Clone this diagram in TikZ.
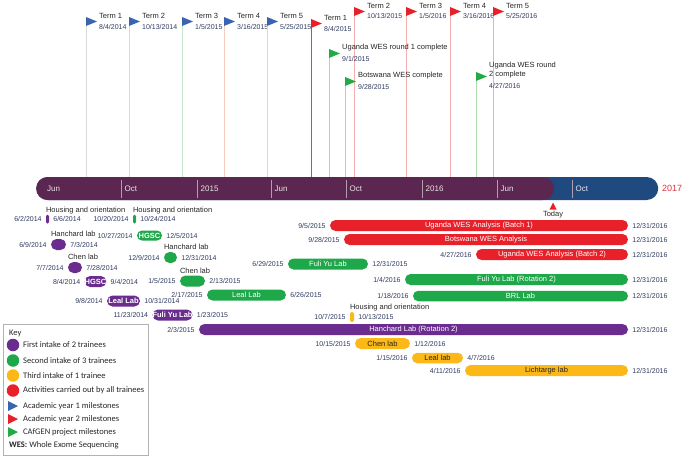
\documentclass[tikz,border=0pt]{standalone}
\usepackage{fontspec}
\setmainfont{Liberation Sans}
\newfontfamily\keyfont{Carlito}
\usetikzlibrary{calc}
\definecolor{tlpurple}{HTML}{5B2650}
\definecolor{tlblue}{HTML}{1E4A80}
\definecolor{cpurple}{HTML}{6A2C8E}
\definecolor{cgreen}{HTML}{1FA84A}
\definecolor{cred}{HTML}{E8202A}
\definecolor{cyellow}{HTML}{FBB817}
\definecolor{cdate}{HTML}{2F3B5E}
\definecolor{fblue}{HTML}{3B64B0}
\definecolor{fred}{HTML}{E8202A}
\definecolor{fgreen}{HTML}{22AA44}
\definecolor{pgrey}{HTML}{D8DAE0}
\definecolor{pgreen}{HTML}{C6E4C6}
\definecolor{psalmon}{HTML}{F8CDBF}
\definecolor{pred}{HTML}{E8404A}
\definecolor{ppink}{HTML}{F4AEAE}
\definecolor{pgreen2}{HTML}{AEDAAE}
\definecolor{yeartxt}{HTML}{D9343F}
\tikzset{
 actbar/.style={inner sep=0, font=\fontsize{7.5}{9}\selectfont, text=white},
 pbar/.style={fill=cpurple}, gbar/.style={fill=cgreen}, rbar/.style={fill=cred},
 ybar/.style={fill=cyellow, text=black!85},
 datesty/.style={inner sep=0, font=\fontsize{7}{8}\selectfont, text=cdate},
 toplabsty/.style={inner sep=0, font=\fontsize{7.5}{9}\selectfont, text=black!85},
 termsty/.style={inner sep=0, font=\fontsize{7.5}{9}\selectfont, text=black!85, align=left},
 polesty/.style={line width=1pt},
 ticklab/.style={inner sep=0, font=\fontsize{8}{9}\selectfont, text=white!88!tlpurple},
 tickline/.style={draw=white!55!tlpurple, line width=0.6pt},
 keytext/.style={inner sep=0, anchor=west, font=\keyfont\fontsize{8.5}{10}\selectfont, text=black!85},
 keydot/.style={circle, inner sep=0, minimum size=12.5pt},
}
% name, x1, x2, yc, h, style, text
\newcommand{\actbar}[7]{%
 \pgfmathsetmacro{\bw}{#3-#2}\pgfmathsetmacro{\br}{min(#5,\bw)/2}%
 \node[actbar,#6,minimum width=\bw pt,minimum height=#5pt,rounded corners=\br pt] (#1) at ({(#2+#3)/2},#4) {#7};}
\newcommand{\bardates}[3]{%
 \node[datesty,anchor=east] (#1s) at ([xshift=-4pt]#1.west) {#2};
 \node[datesty,anchor=west] (#1e) at ([xshift=4pt]#1.east) {#3};}
\newcommand{\toplab}[2]{\node[toplabsty,anchor=base west] (#1t) at ([yshift=2pt]#1.north west) {#2};}
% name,x,ytop,flagcolor,polecolor,label,date,dateoffset
\newcommand{\flag}[8]{%
 \coordinate (#1) at (#2,#3);
 \draw[polesty,#5] (#1) -- (#1 |- tl.north);
 \fill[#4] (#1) -- ++(11,4.5) -- ++(-11,4.5) -- cycle;
 \node[termsty,anchor=west] (#1l) at ($(#1)+(13,-1.5)$) {#6};
 \node[datesty,anchor=west] (#1d) at ($(#1)+(13,#8)$) {#7};}
\begin{document}
\begin{tikzpicture}[x=1pt,y=-1pt]
\useasboundingbox (0,0) rectangle (685,456);
% main time bar
\node[fill=tlblue, rounded corners=11.5pt, minimum width=622pt, minimum height=23pt, inner sep=0, anchor=west] (tl) at (36,188.5) {};
\node[fill=tlpurple, rounded corners=11.5pt, minimum width=518pt, minimum height=23pt, inner sep=0, anchor=west] (tlp) at (36,188.5) {};
\node[ticklab,anchor=west] (tk0) at (47,188.5) {Jun};
\foreach \x/\lab [count=\i] in {121/Oct,197/2015,271/Jun,346/Oct,422/2016,497/Jun,572/Oct}{
  \draw[tickline] (\x,179.5) -- (\x,197.5);
  \node[ticklab,anchor=west] (tk\i) at (\x+3.5,188.5) {\lab};
}
\node[anchor=west, inner sep=0, text=yeartxt, font=\fontsize{9}{10}\selectfont] (yr) at (662,188.5) {2017};
\coordinate (today) at (553,202.5);
\fill[cred] (today) -- ++(-3.5,7) -- ++(7,0) -- cycle;
\node[inner sep=0, font=\fontsize{7.5}{9}\selectfont, text=black!85] (todayl) at (553,215) {Today};
% flags
\flag{a1}{86}{17}{fblue}{pgrey}{Term 1}{8/4/2014}{9.5}
\flag{a2}{129}{17}{fblue}{pgreen}{Term 2}{10/13/2014}{9.5}
\flag{a3}{182}{17}{fblue}{pgreen}{Term 3}{1/5/2015}{9.5}
\flag{a4}{224}{17}{fblue}{psalmon}{Term 4}{3/16/2015}{9.5}
\flag{a5}{267}{17}{fblue}{psalmon}{Term 5}{5/25/2015}{9.5}
\flag{b1}{311}{19}{fred}{pred}{Term 1}{8/4/2015}{9.5}
\flag{b2}{354}{7}{fred}{ppink}{Term 2}{10/13/2015}{8.5}
\flag{b3}{406}{7}{fred}{ppink}{Term 3}{1/5/2016}{8.5}
\flag{b4}{450}{7}{fred}{ppink}{Term 4}{3/16/2016}{8.5}
\flag{b5}{493}{7}{fred}{ppink}{Term 5}{5/25/2016}{8.5}
\flag{c1}{329}{49}{fgreen}{pgreen2}{Uganda WES round 1 complete}{9/1/2015}{9.5}
\flag{c2}{345}{77}{fgreen}{pgreen2}{Botswana WES complete}{9/28/2015}{9.5}
\flag{c3}{476}{72}{fgreen}{pgreen2}{Uganda WES round\\2 complete}{4/27/2016}{14}
% purple bars
\actbar{ph}{46}{49}{219}{9}{pbar}{}\bardates{ph}{6/2/2014}{6/6/2014}\toplab{ph}{Housing and orientation}
\actbar{pha}{51}{66}{244.5}{11}{pbar}{}\bardates{pha}{6/9/2014}{7/3/2014}\toplab{pha}{Hanchard lab}
\actbar{pc}{68}{82}{267.5}{11}{pbar}{}\bardates{pc}{7/7/2014}{7/28/2014}\toplab{pc}{Chen lab}
\actbar{phg}{85}{106}{281.5}{11}{pbar}{\textbf{HGSC}}\bardates{phg}{8/4/2014}{9/4/2014}
\actbar{pl}{107}{140}{301}{11}{pbar}{\textbf{Leal Lab}}\bardates{pl}{9/8/2014}{10/31/2014}
\actbar{pf}{153}{192}{315}{11}{pbar}{\textbf{Fuli Yu Lab}}\bardates{pf}{11/23/2014}{1/23/2015}
\actbar{ph2}{199}{628}{329.5}{11}{pbar}{Hanchard Lab (Rotation 2)}\bardates{ph2}{2/3/2015}{12/31/2016}
% green bars
\actbar{gh}{133}{136}{219}{9}{gbar}{}\bardates{gh}{10/20/2014}{10/24/2014}\toplab{gh}{Housing and orientation}
\actbar{ghg}{137}{162}{235.5}{10}{gbar}{\textbf{HGSC}}\bardates{ghg}{10/27/2014}{12/5/2014}
\actbar{gha}{164}{177}{257.5}{11}{gbar}{}\bardates{gha}{12/9/2014}{12/31/2014}\toplab{gha}{Hanchard lab}
\actbar{gc}{180}{205}{281}{11}{gbar}{}\bardates{gc}{1/5/2015}{2/13/2015}\toplab{gc}{Chen lab}
\actbar{gl}{207}{286}{295}{11}{gbar}{Leal Lab}\bardates{gl}{2/17/2015}{6/26/2015}
\actbar{gf}{288}{368}{264}{11}{gbar}{Fuli Yu Lab}\bardates{gf}{6/29/2015}{12/31/2015}
\actbar{gf2}{405}{628}{279.5}{11}{gbar}{Fuli Yu Lab (Rotation 2)}\bardates{gf2}{1/4/2016}{12/31/2016}
\actbar{gb}{413}{628}{296}{10.5}{gbar}{BRL Lab}\bardates{gb}{1/18/2016}{12/31/2016}
% red bars
\actbar{r1}{330}{628}{225.5}{11}{rbar}{Uganda WES Analysis (Batch 1)}\bardates{r1}{9/5/2015}{12/31/2016}
\actbar{r2}{344}{628}{239.5}{11}{rbar}{Botswana WES Analysis}\bardates{r2}{9/28/2015}{12/31/2016}
\actbar{r3}{476}{628}{254.5}{11}{rbar}{Uganda WES Analysis (Batch 2)}\bardates{r3}{4/27/2016}{12/31/2016}
% yellow bars
\actbar{yh}{350}{354}{317}{10}{ybar}{}\bardates{yh}{10/7/2015}{10/13/2015}\toplab{yh}{Housing and orientation}
\actbar{yc}{355}{410}{343.5}{11}{ybar}{Chen lab}\bardates{yc}{10/15/2015}{1/12/2016}
\actbar{yl}{412}{463}{358}{10.5}{ybar}{Leal lab}\bardates{yl}{1/15/2016}{4/7/2016}
\actbar{yli}{465}{628}{370.5}{11}{ybar}{Lichtarge lab}\bardates{yli}{4/11/2016}{12/31/2016}
% key
\node[draw=black!30, line width=0.6pt, minimum width=145pt, minimum height=131pt, inner sep=0, anchor=north west] (key) at (3,324) {};
\node[keytext] (kt) at (9,333) {Key};
\node[keydot, fill=cpurple] (k1) at (13,345) {};
\node[keytext] (k1t) at (23,345) {First intake of 2 trainees};
\node[keydot, fill=cgreen] (k2) at (13,360.5) {};
\node[keytext] (k2t) at (23,360.5) {Second intake of 3 trainees};
\node[keydot, fill=cyellow] (k3) at (13,375.5) {};
\node[keytext] (k3t) at (23,375.5) {Third intake of 1 trainee};
\node[keydot, fill=cred] (k4) at (13,390.5) {};
\node[keytext] (k4t) at (23,390.5) {Activities carried out by all trainees};
\coordinate (k5) at (8,401);
\fill[fblue] (k5) -- ++(10,5) -- ++(-10,5) -- cycle;
\node[keytext] (k5t) at (23,406) {Academic year 1 milestones};
\coordinate (k6) at (8,414);
\fill[fred] (k6) -- ++(10,5) -- ++(-10,5) -- cycle;
\node[keytext] (k6t) at (23,419) {Academic year 2 milestones};
\coordinate (k7) at (8,427);
\fill[fgreen] (k7) -- ++(10,5) -- ++(-10,5) -- cycle;
\node[keytext] (k7t) at (23,432) {CAfGEN project milestones};
\node[keytext] (k8t) at (9,445.5) {\textbf{WES:} Whole Exome Sequencing};
\end{tikzpicture}
\end{document}
